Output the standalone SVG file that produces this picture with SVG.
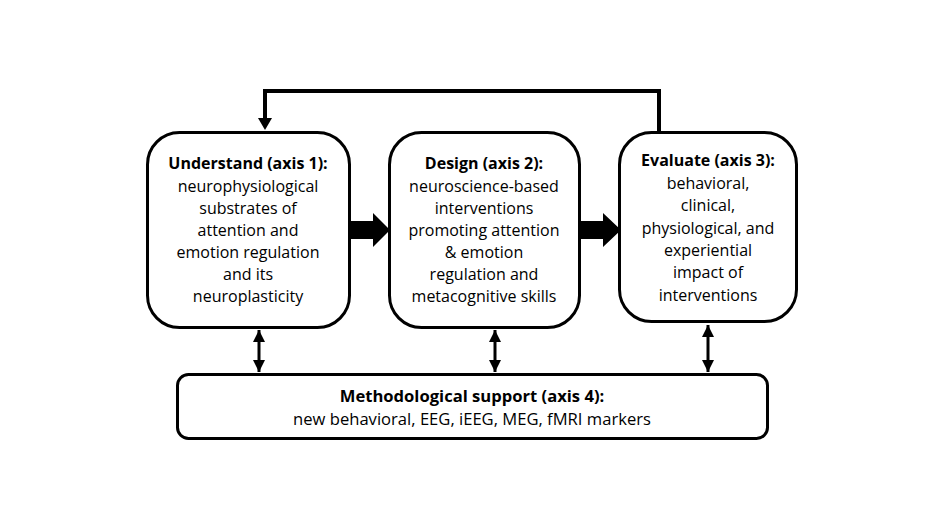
<svg xmlns="http://www.w3.org/2000/svg" width="943" height="529" viewBox="0 0 943 529">
<style>
.box{fill:#fff;stroke:#000;stroke-width:3}
.t{font-family:"Open Sans","Liberation Sans",sans-serif;font-size:16px;fill:#000;text-anchor:middle}
.b{font-weight:bold}
.w{font-size:16.6px}
.ln{fill:none;stroke:#000;stroke-width:3}
.fb{fill:none;stroke:#000;stroke-width:4}
</style>
<defs>
<marker id="ah" viewBox="0 0 10 10" refX="10" refY="5" markerWidth="4" markerHeight="4" orient="auto-start-reverse" markerUnits="strokeWidth">
<path d="M0,0 L10,5 L0,10 z" fill="#000"/>
</marker>
</defs>
<rect width="943" height="529" fill="#fff"/>
<g id="connectors">
<path class="fb" d="M659,132 V91 H265 V120"/>
<path d="M258,118 L272,118 L265,130 z" fill="#000"/>
<path d="M349,221 H373 V213 L390,230 L373,247 V239 H349 z" fill="#000"/>
<path d="M579,221 H603 V213 L621,230 L603,247 V239 H579 z" fill="#000"/>
<line class="ln" x1="259" y1="330" x2="259" y2="372" marker-start="url(#ah)" marker-end="url(#ah)"/>
<line class="ln" x1="495" y1="330" x2="495" y2="372" marker-start="url(#ah)" marker-end="url(#ah)"/>
<line class="ln" x1="708" y1="325" x2="708" y2="372" marker-start="url(#ah)" marker-end="url(#ah)"/>
</g>
<g id="n1">
<rect class="box" x="147.5" y="132.5" width="202" height="195" rx="32"/>
<text class="t b" x="248" y="169">Understand (axis 1):</text>
<text class="t" x="248" y="192">neurophysiological</text>
<text class="t" x="248" y="214">substrates of</text>
<text class="t" x="248" y="236">attention and</text>
<text class="t" x="248" y="258">emotion regulation</text>
<text class="t" x="248" y="280">and its</text>
<text class="t" x="248" y="302">neuroplasticity</text>
</g>
<g id="n2">
<rect class="box" x="389.5" y="132.5" width="190" height="195" rx="32"/>
<text class="t b" x="484" y="169">Design (axis 2):</text>
<text class="t" x="484" y="192">neuroscience-based</text>
<text class="t" x="484" y="214">interventions</text>
<text class="t" x="484" y="236">promoting attention</text>
<text class="t" x="484" y="258">&amp; emotion</text>
<text class="t" x="484" y="280">regulation and</text>
<text class="t" x="484" y="302">metacognitive skills</text>
</g>
<g id="n3">
<rect class="box" x="619.5" y="132.5" width="177" height="189" rx="32"/>
<text class="t b" x="708" y="166">Evaluate (axis 3):</text>
<text class="t" x="708" y="189">behavioral,</text>
<text class="t" x="708" y="211">clinical,</text>
<text class="t" x="708" y="234">physiological, and</text>
<text class="t" x="708" y="256">experiential</text>
<text class="t" x="708" y="278">impact of</text>
<text class="t" x="708" y="301">interventions</text>
</g>
<g id="n4">
<rect class="box" x="177.5" y="374.5" width="590" height="64" rx="11"/>
<text class="t b w" x="472" y="402">Methodological support (axis 4):</text>
<text class="t w" x="472" y="425">new behavioral, EEG, iEEG, MEG, fMRI markers</text>
</g>
</svg>
